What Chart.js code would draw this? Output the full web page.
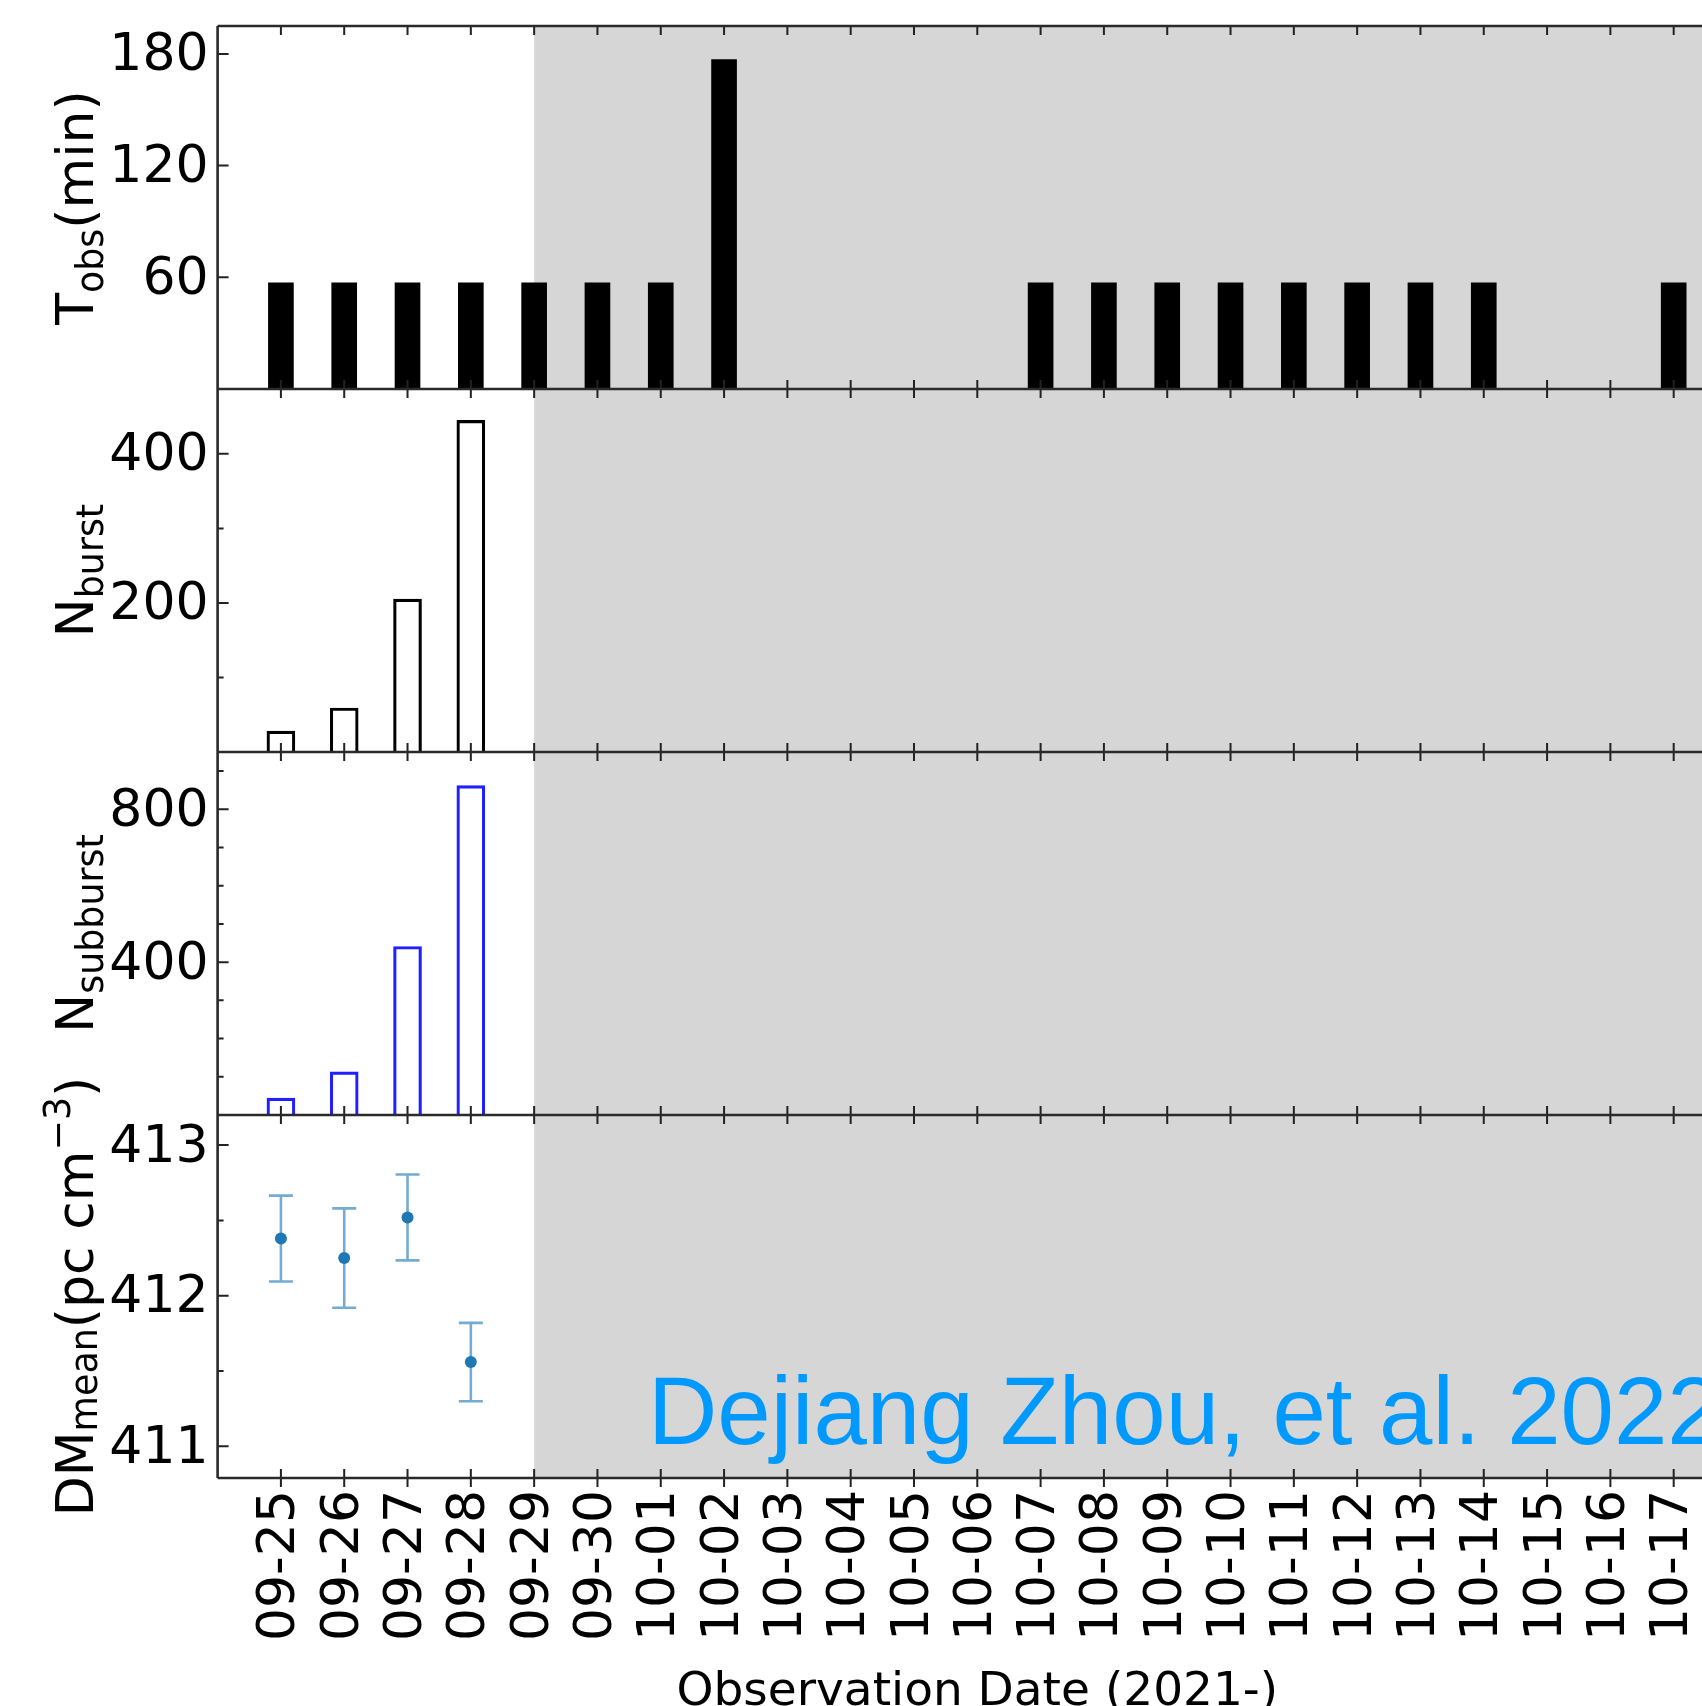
<!DOCTYPE html>
<html>
<head>
<meta charset="utf-8">
<title>Observation log 2021</title>
<script src="https://cdn.jsdelivr.net/npm/chart.js@4.4.1/dist/chart.umd.min.js"></script>
<style>
  html, body { margin: 0; padding: 0; background: #fff; overflow: hidden; }
  #wrap { position: relative; width: 1760px; height: 1706px; }
</style>
</head>
<body>
<div id="wrap"><canvas id="chart" width="1760" height="1706"></canvas></div>
<script>
// observation dates (2021-)
const dates = ['09-25', '09-26', '09-27', '09-28', '09-29', '09-30', '10-01', '10-02', '10-03', '10-04', '10-05', '10-06',
  '10-07', '10-08', '10-09', '10-10', '10-11', '10-12', '10-13', '10-14', '10-15', '10-16', '10-17'];

// observing time per day (min), null = no session that day
const tObs = [57, 57, 57, 57, 57, 57, 57, 177, null, null, null, null, 57, 57, 57, 57, 57, 57, 57, 57, null, null, 57];
// burst / sub-burst counts per day
const nBurst = [28, 59, 205, 445, 0, 0, 0, 0, null, null, null, null, 0, 0, 0, 0, 0, 0, 0, 0, null, null, 0];
const nSubburst = [44, 113, 441, 862, 0, 0, 0, 0, null, null, null, null, 0, 0, 0, 0, 0, 0, 0, 0, null, null, 0];
// mean DM per day and its error
const dmMean = [412.38, 412.25, 412.52, 411.56];
const dmErr = [0.285, 0.33, 0.285, 0.26];

// tick labels
const tObsTicks = [60, 120, 180];
const burstTicks = [200, 400];
const burstMinor = [100, 300];
const subTicks = [400, 800];
const subMinor = [100, 200, 300, 500, 600, 700, 900];
const dmTicks = [411, 412, 413];
const dmMinor = [411.5, 412.5];

const quietFrom = 4; // shaded from 09-29 on

const FONT = '"DejaVu Sans", sans-serif';

const toPoints = arr => arr.map((v, i) => ({ x: i, y: v })).filter(p => p.y !== null);

// y axis titles with sub/superscripts (size in px, dy = baseline shift)
const yTitles = {
  yT: [{ t: 'T', s: 52, dy: 0 }, { t: 'obs', s: 36.4, dy: 10 }, { t: '(min)', s: 52, dy: 0 }],
  yBurst: [{ t: 'N', s: 52, dy: 0 }, { t: 'burst', s: 36.4, dy: 10 }],
  ySub: [{ t: 'N', s: 52, dy: 0 }, { t: 'subburst', s: 36.4, dy: 10 }],
  yDM: [{ t: 'DM', s: 52, dy: 0 }, { t: 'mean', s: 36.4, dy: 4 }, { t: '(pc cm', s: 52, dy: 0 },
    { t: '\u22123', s: 36.4, dy: -23 }, { t: ')', s: 52, dy: 0 }]
};
const minorTicks = { yT: [], yBurst: burstMinor, ySub: subMinor, yDM: dmMinor };

function drawRotated(ctx, parts, baseX, cy) {
  ctx.save();
  ctx.translate(baseX, cy);
  ctx.rotate(-Math.PI / 2);
  ctx.fillStyle = '#000';
  ctx.textBaseline = 'alphabetic';
  let total = 0;
  parts.forEach(p => {
    ctx.font = p.s + 'px ' + FONT;
    p.w = ctx.measureText(p.t).width;
    total += p.w;
  });
  let x = -total / 2;
  parts.forEach(p => {
    ctx.font = p.s + 'px ' + FONT;
    ctx.fillText(p.t, x, p.dy);
    x += p.w;
  });
  ctx.restore();
}

// no extra room for overhanging tick labels, the frame is fixed
function noPadding(s) {
  s.paddingTop = 0;
  s.paddingBottom = 0;
  s.paddingLeft = 0;
  s.paddingRight = 0;
}

const panelFrame = {
  id: 'panelFrame',
  beforeDatasetsDraw(chart) {
    const { ctx, chartArea: ca, scales } = chart;
    const xs = scales.x;
    const x0 = xs.getPixelForValue(quietFrom);
    ctx.save();
    ctx.fillStyle = '#d6d6d6';
    ctx.fillRect(x0, ca.top, ca.right - x0, ca.bottom - ca.top);

    // DM error bars
    const yd = scales.yDM;
    ctx.strokeStyle = 'rgba(31,119,180,0.62)';
    ctx.lineWidth = 2.6;
    dmMean.forEach((m, i) => {
      const px = xs.getPixelForValue(i);
      const top = yd.getPixelForValue(m + dmErr[i]);
      const bot = yd.getPixelForValue(m - dmErr[i]);
      ctx.beginPath();
      ctx.moveTo(px, top); ctx.lineTo(px, bot);
      ctx.moveTo(px - 12, top); ctx.lineTo(px + 12, top);
      ctx.moveTo(px - 12, bot); ctx.lineTo(px + 12, bot);
      ctx.stroke();
    });
    ctx.restore();
  },
  afterDatasetsDraw(chart) {
    const { ctx, chartArea: ca, scales } = chart;
    const xs = scales.x;
    ctx.save();
    ctx.strokeStyle = '#222';
    ctx.lineWidth = 2;
    ['yT', 'yBurst', 'ySub', 'yDM'].forEach(id => {
      const s = scales[id];
      ctx.beginPath();
      dates.forEach((d, i) => {
        const px = xs.getPixelForValue(i);
        ctx.moveTo(px, s.top); ctx.lineTo(px, s.top + 9);
        ctx.moveTo(px, s.bottom - 9);
        ctx.lineTo(px, id === 'yDM' ? s.bottom + 9 : s.bottom);
      });
      s.ticks.forEach(t => {
        const py = s.getPixelForValue(t.value);
        ctx.moveTo(ca.left, py); ctx.lineTo(ca.left + 11, py);
      });
      minorTicks[id].forEach(v => {
        const py = s.getPixelForValue(v);
        ctx.moveTo(ca.left, py); ctx.lineTo(ca.left + 6, py);
      });
      ctx.stroke();
    });

    // frame lines
    ctx.strokeStyle = '#2a2a2a';
    ctx.lineWidth = 2.6;
    ctx.beginPath();
    ctx.moveTo(ca.left, ca.top); ctx.lineTo(ca.left, ca.bottom);
    ctx.moveTo(ca.right, ca.top); ctx.lineTo(ca.right, ca.bottom);
    ctx.moveTo(ca.left, ca.top); ctx.lineTo(ca.right, ca.top);
    ['yT', 'yBurst', 'ySub', 'yDM'].forEach(id => {
      const b = scales[id].bottom;
      ctx.moveTo(ca.left, b); ctx.lineTo(ca.right, b);
    });
    ctx.stroke();

    // credit line
    ctx.fillStyle = '#0099ff';
    ctx.font = '96px "Liberation Sans", Arial, sans-serif';
    ctx.textBaseline = 'alphabetic';
    ctx.fillText('Dejiang Zhou, et al. 2022', 648, 1444);
    ctx.restore();
  },
  afterDraw(chart) {
    const { ctx, chartArea: ca, scales } = chart;
    Object.keys(yTitles).forEach(id => {
      const s = scales[id];
      drawRotated(ctx, yTitles[id], 92.5, (s.top + s.bottom) / 2);
    });
    ctx.save();
    ctx.fillStyle = '#000';
    ctx.font = '47px ' + FONT;
    ctx.textAlign = 'center';
    ctx.textBaseline = 'alphabetic';
    ctx.fillText('Observation Date (2021-)', (ca.left + ca.right) / 2, 1705);
    ctx.restore();
  }
};

function yAxis(min, max, ticks) {
  return {
    type: 'linear',
    position: 'left',
    stack: 'panels',
    stackWeight: 1,
    min: min,
    max: max,
    grid: { display: false, drawTicks: false },
    border: { display: false },
    ticks: { font: { family: FONT, size: 52 }, color: '#000', padding: 9, labelOffset: 3, autoSkip: false },
    afterBuildTicks: s => { s.ticks = ticks.map(v => ({ value: v })); },
    afterFit: s => { s.width = 217.6; noPadding(s); }
  };
}

const ctx = document.getElementById('chart').getContext('2d');
new Chart(ctx, {
  type: 'bar',
  data: {
    datasets: [
      {
        label: 'Tobs',
        data: toPoints(tObs),
        yAxisID: 'yT',
        backgroundColor: '#000',
        borderWidth: 0,
        barThickness: 25,
        grouped: false
      },
      {
        label: 'Nburst',
        data: toPoints(nBurst),
        yAxisID: 'yBurst',
        backgroundColor: 'rgba(0,0,0,0)',
        borderColor: '#000',
        borderWidth: 2.5,
        barThickness: 28,
        grouped: false
      },
      {
        label: 'Nsubburst',
        data: toPoints(nSubburst),
        yAxisID: 'ySub',
        backgroundColor: 'rgba(0,0,0,0)',
        borderColor: '#1f1fff',
        borderWidth: 2.5,
        barThickness: 28,
        grouped: false
      },
      {
        type: 'scatter',
        label: 'DMmean',
        data: toPoints(dmMean),
        yAxisID: 'yDM',
        backgroundColor: '#1f77b4',
        borderWidth: 0,
        pointRadius: 6
      }
    ]
  },
  options: {
    responsive: false,
    devicePixelRatio: 1,
    animation: false,
    layout: { padding: { top: 26, right: 23, bottom: 0, left: 0 } },
    plugins: { legend: { display: false }, tooltip: { enabled: false } },
    scales: {
      x: {
        type: 'linear',
        min: -1,
        max: 23,
        offset: false,
        grid: { display: false, drawTicks: false },
        border: { display: false },
        afterBuildTicks: s => { s.ticks = dates.map((d, i) => ({ value: i })); },
        afterFit: s => { s.height = 228; noPadding(s); },
        ticks: {
          autoSkip: false,
          minRotation: 90,
          maxRotation: 90,
          padding: 12,
          color: '#000',
          font: { family: FONT, size: 52 },
          callback: v => dates[v] || ''
        }
      },
      // listed bottom panel first: the stacked layout puts the last one on top
      yDM: yAxis(410.79, 413.2, dmTicks),
      ySub: yAxis(0, 950, subTicks),
      yBurst: yAxis(0, 487, burstTicks),
      yT: yAxis(0, 195, tObsTicks)
    }
  },
  plugins: [panelFrame]
});
</script>
</body>
</html>
